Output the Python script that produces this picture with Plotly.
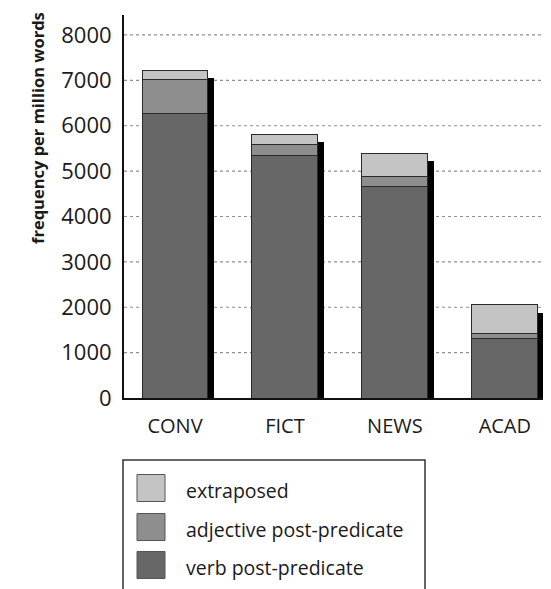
import plotly.graph_objects as go

categories = ["CONV", "FICT", "NEWS", "ACAD"]
verb_post = [6280, 5350, 4670, 1320]
adj_post = [745, 245, 220, 110]
extraposed = [200, 220, 505, 620]
series_names = ["extraposed", "adjective post-predicate", "verb post-predicate"]
y_ticks = [0, 1000, 2000, 3000, 4000, 5000, 6000, 7000, 8000]

OFF = 8  # page body margin
W, H = 551 - OFF, 589 - OFF
ML, MR, MT, MB = 124 - OFF, 0, 15 - OFF, 191
PW, PH = W - ML - MR, H - MT - MB

C_VERB, C_ADJ, C_EXT = "#676767", "#8e8e8e", "#c4c4c4"
FONT = "Open Sans"

xs = list(range(len(categories)))
totals = [v + a + e for v, a, e in zip(verb_post, adj_post, extraposed)]

fig = go.Figure()
# drop shadow behind each bar
fig.add_trace(go.Bar(x=[x + 0.055 for x in xs], y=[t - 175 for t in totals], width=0.6,
                     marker=dict(color="#000000", line=dict(width=0)),
                     showlegend=False, hoverinfo="skip"))
for vals, col, name in [(verb_post, C_VERB, series_names[2]),
                        (adj_post, C_ADJ, series_names[1]),
                        (extraposed, C_EXT, series_names[0])]:
    fig.add_trace(go.Bar(x=xs, y=vals, width=0.6, name=name,
                         marker=dict(color=col, line=dict(color="#2a2a2a", width=1)),
                         showlegend=False))

# convert window pixel coords to paper coords
def px(x):
    return (x - OFF - ML) / PW

def py(y):
    return (MT + PH - (y - OFF)) / PH

shapes = []
annotations = []
# dotted gridlines at the y ticks, behind the bars
for t in y_ticks[1:]:
    shapes.append(dict(type="line", xref="paper", yref="y", x0=0, x1=1, y0=t, y1=t,
                       layer="below", line=dict(color="#8f8f8f", width=1.2, dash="dot")))
# legend box
shapes.append(dict(type="rect", xref="paper", yref="paper",
                   x0=px(123), x1=px(425), y0=py(460), y1=py(600),
                   line=dict(color="#333333", width=1.5), fillcolor="white"))
leg = [(series_names[0], C_EXT, 488), (series_names[1], C_ADJ, 527), (series_names[2], C_VERB, 565)]
for name, col, cy in leg:
    shapes.append(dict(type="rect", xref="paper", yref="paper",
                       x0=px(137), x1=px(165), y0=py(cy - 13.5), y1=py(cy + 13.5),
                       line=dict(color="#555555", width=1), fillcolor=col))
    annotations.append(dict(xref="paper", yref="paper", x=px(184), y=py(cy + 2),
                            text=name, showarrow=False, xanchor="left", yanchor="middle",
                            font=dict(family=FONT, size=19.5, color="#1a1a1a")))
# y axis title
annotations.append(dict(xref="paper", yref="paper", x=px(37), y=py(128),
                        text="<b>frequency per million words</b>", textangle=-90,
                        showarrow=False, xanchor="center", yanchor="middle",
                        font=dict(family=FONT, size=16.5, color="#1a1a1a")))

fig.update_layout(
    width=W, height=H, barmode="stack",
    margin=dict(l=ML, r=MR, t=MT, b=MB, pad=0),
    paper_bgcolor="white", plot_bgcolor="white",
    font=dict(family=FONT, color="#1a1a1a"),
    showlegend=False,
    shapes=shapes, annotations=annotations,
    xaxis=dict(range=[-0.464, 3.42], tickvals=xs, ticktext=categories,
               showline=True, linecolor="#111111", linewidth=2,
               ticks="outside", ticklen=9, tickcolor="rgba(0,0,0,0)",
               showgrid=False, zeroline=False, fixedrange=True,
               tickfont=dict(family=FONT, size=20, color="#1a1a1a")),
    yaxis=dict(range=[0, 8440], tickvals=y_ticks, showline=True, linecolor="#111111",
               linewidth=2, ticks="outside", ticklen=6, tickcolor="rgba(0,0,0,0)",
               showgrid=False, zeroline=False, fixedrange=True,
               tickfont=dict(family=FONT, size=22, color="#1a1a1a")),
)

fig.write_html("out.html")
